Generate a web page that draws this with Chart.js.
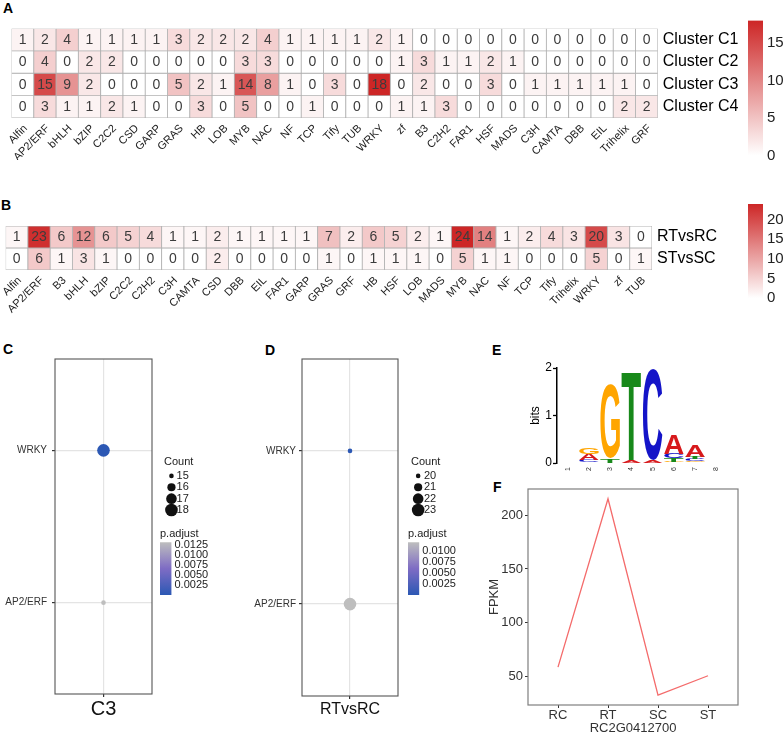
<!DOCTYPE html>
<html>
<head>
<meta charset="utf-8">
<script src="https://cdn.jsdelivr.net/npm/chart.js@4.4.1/dist/chart.umd.min.js"></script>
<style>
  html, body { margin: 0; padding: 0; background: #fff; }
  #fig { position: relative; width: 784px; height: 736px; overflow: hidden; background: #fff; }
  #fig canvas { position: absolute; }
  .tag { position: absolute; font: bold 14px "Liberation Sans", Arial, sans-serif; line-height: 16px; color: #000; }
</style>
</head>
<body>
<div id="fig">
  <div class="tag" style="left:3px;top:0px">A</div>
  <div class="tag" style="left:1px;top:197px">B</div>
  <div class="tag" style="left:3px;top:341px">C</div>
  <div class="tag" style="left:265px;top:342px">D</div>
  <div class="tag" style="left:492px;top:342px">E</div>
  <div class="tag" style="left:493px;top:479px">F</div>
</div>
<script>
// === Data ===

// A: TF families per cluster
const catsA = ['Alfin', 'AP2/ERF', 'bHLH', 'bZIP', 'C2C2', 'CSD', 'GARP', 'GRAS', 'HB', 'LOB', 'MYB', 'NAC', 'NF', 'TCP', 'Tify', 'TUB', 'WRKY', 'zf', 'B3', 'C2H2', 'FAR1', 'HSF', 'MADS', 'C3H', 'CAMTA', 'DBB', 'EIL', 'Trihelix', 'GRF'];
const clustersA = ['Cluster C1', 'Cluster C2', 'Cluster C3', 'Cluster C4'];
const countC1 = [1, 2, 4, 1, 1, 1, 1, 3, 2, 2, 2, 4, 1, 1, 1, 1, 2, 1, 0, 0, 0, 0, 0, 0, 0, 0, 0, 0, 0];
const countC2 = [0, 4, 0, 2, 2, 0, 0, 0, 0, 0, 3, 3, 0, 0, 0, 0, 0, 1, 3, 1, 1, 2, 1, 0, 0, 0, 0, 0, 0];
const countC3 = [0, 15, 9, 2, 0, 0, 0, 5, 2, 1, 14, 8, 1, 0, 3, 0, 18, 0, 2, 0, 0, 3, 0, 1, 1, 1, 1, 1, 0];
const countC4 = [0, 3, 1, 1, 2, 1, 0, 0, 3, 0, 5, 0, 0, 1, 0, 0, 0, 1, 1, 3, 0, 0, 0, 0, 0, 0, 0, 2, 2];
const legendTicksA = [0, 5, 10, 15];

// B: TF families per comparison
const catsB = ['Alfin', 'AP2/ERF', 'B3', 'bHLH', 'bZIP', 'C2C2', 'C2H2', 'C3H', 'CAMTA', 'CSD', 'DBB', 'EIL', 'FAR1', 'GARP', 'GRAS', 'GRF', 'HB', 'HSF', 'LOB', 'MADS', 'MYB', 'NAC', 'NF', 'TCP', 'Tify', 'Trihelix', 'WRKY', 'zf', 'TUB'];
const compsB = ['RTvsRC', 'STvsSC'];
const countRT = [1, 23, 6, 12, 6, 5, 4, 1, 1, 2, 1, 1, 1, 1, 7, 2, 6, 5, 2, 1, 24, 14, 1, 2, 4, 3, 20, 3, 0];
const countST = [0, 6, 1, 3, 1, 0, 0, 0, 0, 2, 0, 0, 0, 0, 1, 0, 1, 1, 1, 0, 5, 1, 1, 0, 0, 0, 5, 0, 1];
const legendTicksB = [0, 5, 10, 15, 20];

// C / D: enrichment dot plots
const terms = ['AP2/ERF', 'WRKY'];
const countCl3 = [15, 18];
const padjCl3 = [0.01325, 0.00002];
const countRTRC = [23, 20];
const padjRTRC = [0.0121, 0.00002];
const breaksCl3 = [15, 16, 17, 18];
const breaksRTRC = [20, 21, 22, 23];
const pTicksCl3 = [0.0025, 0.005, 0.0075, 0.01, 0.0125];
const pTicksRTRC = [0.0025, 0.005, 0.0075, 0.01];

// E: motif logo (bits per letter and position)
const logoPos = ['1', '2', '3', '4', '5', '6', '7', '8'];
const bitsA = [0, 0.13, 0, 0.07, 0.05, 0.40, 0.25, 0];
const bitsC = [0, 0.04, 0, 0, 1.92, 0.10, 0.04, 0];
const bitsG = [0, 0.14, 1.56, 0, 0, 0.03, 0.035, 0];
const bitsT = [0, 0.02, 0.10, 1.85, 0, 0.07, 0.06, 0];

// F: expression
const fpkmSamples = ['RC', 'RT', 'SC', 'ST'];
const fpkmValues = [59, 215, 33, 51];
const fpkmTicks = [50, 100, 150, 200];

// === Helpers ===
const FONT = '"Liberation Sans", Arial, sans-serif';
Chart.defaults.font.family = FONT;
Chart.defaults.color = '#222';
const NOGRID = { display: false, drawTicks: false };

function mk(left, top, w, h) {
  const c = document.createElement('canvas');
  c.width = w; c.height = h;
  c.style.left = left + 'px'; c.style.top = top + 'px';
  c.style.width = w + 'px'; c.style.height = h + 'px';
  document.getElementById('fig').appendChild(c);
  return c;
}
// fix axis box size so the plot area lands where it should
function pin(size) {
  return s => {
    if (s.isHorizontal()) s.height = size; else s.width = size;
    s.paddingLeft = s.paddingRight = s.paddingTop = s.paddingBottom = 0;
  };
}
function tickAt(vals) { return s => { s.ticks = vals.map(v => ({ value: v })); }; }
function opts(extra) {
  return Object.assign({ responsive: false, animation: false, devicePixelRatio: 1 }, extra, {
    plugins: Object.assign({ legend: { display: false }, tooltip: { enabled: false } }, extra.plugins || {})
  });
}
function red(t) {
  const c = [255 - t * 50, 255 - t * 217, 255 - t * 217].map(Math.round);
  return `rgb(${c})`;
}
function blueGrey(t) {
  const stops = [[44, 88, 180], [126, 108, 196], [190, 190, 190]];
  const s = t <= 0.5 ? 0 : 1;
  const u = t <= 0.5 ? t / 0.5 : (t - 0.5) / 0.5;
  const c = stops[s].map((v, k) => Math.round(v + u * (stops[s + 1][k] - v)));
  return `rgb(${c})`;
}
function sizeOf(v, lo, hi) {
  const t = hi > lo ? (v - lo) / (hi - lo) : 1;
  return Math.sqrt(2.3 * 2.3 + t * (6.3 * 6.3 - 2.3 * 2.3));
}
function frame(color, w) {
  return { id: 'frame', afterDraw(chart) {
    const { ctx, chartArea: a } = chart;
    ctx.save(); ctx.strokeStyle = color; ctx.lineWidth = w;
    ctx.strokeRect(a.left, a.top, a.right - a.left, a.bottom - a.top);
    ctx.restore();
  } };
}
const legendTitle = text => ({ display: true, text, align: 'start', color: '#222',
  font: { size: 11, weight: 'normal' }, padding: { top: 0, bottom: 2 } });

// numbers inside heatmap cells
const cellText = { id: 'cellText', afterDatasetsDraw(chart) {
  const ctx = chart.ctx;
  ctx.save();
  ctx.font = '14px ' + FONT; ctx.fillStyle = '#3c3c3c';
  ctx.textAlign = 'center'; ctx.textBaseline = 'middle';
  chart.data.datasets.forEach((ds, i) => {
    chart.getDatasetMeta(i).data.forEach((el, j) => {
      const p = el.getCenterPoint();
      ctx.fillText(ds.counts[j], p.x, p.y + 0.5);
    });
  });
  ctx.restore();
} };

function heatmap(el, cats, rowNames, rows, o) {
  const maxV = Math.max(...rows.flat());
  return new Chart(el, {
    type: 'bar',
    data: { labels: cats, datasets: rows.map((vals, r) => ({
      data: vals.map(() => [r - 0.5, r + 0.5]),
      counts: vals,
      backgroundColor: vals.map(v => red(v / maxV)),
      borderColor: '#B0B0B0', borderWidth: 0.8, borderSkipped: false,
      barPercentage: 1, categoryPercentage: 1, grouped: false
    })) },
    options: opts({
      layout: { padding: o.pad },
      scales: {
        x: { grid: NOGRID, border: { display: false }, afterFit: pin(o.xH),
          ticks: { autoSkip: false, minRotation: 45, maxRotation: 45, font: { size: 11 }, color: '#222', padding: 4, labelOffset: 3 } },
        y: { type: 'linear', position: 'right', reverse: true, min: -0.5, max: rows.length - 0.5,
          grid: NOGRID, border: { display: false }, afterFit: pin(o.yW),
          afterBuildTicks: tickAt(rowNames.map((_, i) => i)),
          ticks: { autoSkip: false, callback: v => rowNames[v], font: { size: 16 }, color: '#000', padding: 5 } }
      }
    }),
    plugins: [cellText]
  });
}

function colorbar(el, lo, hi, ticks, colorAt, o) {
  return new Chart(el, {
    type: 'bar',
    data: { labels: [''], datasets: [{
      data: [[lo, hi]], barPercentage: 1, categoryPercentage: 1,
      backgroundColor: ctx => {
        const a = ctx.chart.chartArea;
        if (!a) return 'rgba(0,0,0,0)';
        const g = ctx.chart.ctx.createLinearGradient(0, a.bottom, 0, a.top);
        for (let i = 0; i <= 10; i++) g.addColorStop(i / 10, colorAt(i / 10));
        return g;
      }
    }] },
    options: opts({
      layout: { padding: o.pad },
      plugins: o.title ? { title: legendTitle(o.title) } : {},
      scales: {
        x: { display: false },
        y: { position: 'right', min: lo, max: hi, grid: NOGRID, border: { display: false },
          afterFit: pin(o.yW), afterBuildTicks: tickAt(ticks),
          ticks: { autoSkip: false, font: { size: o.fs }, color: '#222', padding: o.tp, callback: o.fmt || (v => v) } }
      }
    })
  });
}

function dotPlot(el, counts, padj, sample, o) {
  const cLo = Math.min(...counts), cHi = Math.max(...counts);
  const pLo = Math.min(...padj), pHi = Math.max(...padj);
  return new Chart(el, {
    type: 'scatter',
    data: { datasets: [{
      data: terms.map((t, i) => ({ x: 1, y: i + 1, count: counts[i], p: padj[i] })),
      pointRadius: ctx => ctx.raw ? sizeOf(ctx.raw.count, cLo, cHi) : 3,
      pointBackgroundColor: ctx => ctx.raw ? blueGrey((ctx.raw.p - pLo) / (pHi - pLo)) : '#999',
      pointBorderWidth: 0, clip: false
    }] },
    options: opts({
      layout: { padding: o.pad },
      scales: {
        x: { type: 'linear', min: 0.4, max: 1.6, afterBuildTicks: tickAt([1]), afterFit: pin(o.xH),
          grid: { color: '#E4E4E4', lineWidth: 1.2, tickColor: '#333', tickLength: 3 }, border: { display: false },
          ticks: { callback: () => sample, font: { size: o.xfs }, color: '#111', padding: o.xpad } },
        y: { type: 'linear', min: 0.4, max: terms.length + 0.6, afterBuildTicks: tickAt(terms.map((_, i) => i + 1)),
          afterFit: pin(o.yW),
          grid: { color: '#E4E4E4', lineWidth: 1.2, tickColor: '#333', tickLength: 3 }, border: { display: false },
          ticks: { autoSkip: false, callback: v => terms[v - 1], font: { size: 10 }, color: '#333', padding: o.ypad } }
      }
    }),
    plugins: [frame('#555', 1.1)]
  });
}

function countLegend(el, breaks, o) {
  const lo = Math.min(...breaks), hi = Math.max(...breaks);
  return new Chart(el, {
    type: 'scatter',
    data: { datasets: [{
      data: breaks.map((b, i) => ({ x: 0.5, y: i + 1, count: b })),
      pointRadius: ctx => ctx.raw ? sizeOf(ctx.raw.count, lo, hi) : 3,
      pointBackgroundColor: '#111', pointBorderWidth: 0, clip: false
    }] },
    options: opts({
      layout: { padding: o.pad },
      plugins: { title: legendTitle('Count') },
      scales: {
        x: { display: false, min: 0, max: 1 },
        y: { position: 'right', reverse: true, min: 0.5, max: breaks.length + 0.5,
          afterBuildTicks: tickAt(breaks.map((_, i) => i + 1)), afterFit: pin(o.yW),
          grid: NOGRID, border: { display: false },
          ticks: { autoSkip: false, callback: v => breaks[v - 1], font: { size: 11 }, color: '#222', padding: o.tp } }
      }
    })
  });
}

// === A ===
heatmap(mk(0, 20, 784, 140), catsA, clustersA, [countC1, countC2, countC3, countC4],
  { pad: { left: 11.5, top: 8.5 }, xH: 42, yW: 126.2 });
colorbar(mk(730, 10, 54, 160), 0, Math.max(...countC1, ...countC2, ...countC3, ...countC4), legendTicksA, red,
  { pad: { left: 18, top: 10.5, bottom: 14.5 }, yW: 21, fs: 15, tp: 4 });

// === B ===
heatmap(mk(0, 215, 784, 105), catsB, compsB, [countRT, countST],
  { pad: { left: 5.6, top: 11 }, xH: 50, yW: 132 });
colorbar(mk(730, 195, 54, 115), 0, Math.max(...countRT, ...countST), legendTicksB, red,
  { pad: { left: 18, top: 9, bottom: 12 }, yW: 21, fs: 15, tp: 4 });

// === C ===
dotPlot(mk(0, 350, 160, 375), countCl3, padjCl3, 'C3',
  { pad: { top: 9, right: 8 }, xH: 31, yW: 55, xfs: 20, xpad: 0, ypad: 5 });
countLegend(mk(164, 455, 60, 67), breaksCl3, { pad: { bottom: 6.3 }, yW: 51.4, tp: 4 });
colorbar(mk(160, 527, 60, 75), Math.min(...padjCl3), Math.max(...padjCl3), pTicksCl3, blueGrey,
  { title: 'p.adjust', pad: { bottom: 7 }, yW: 48.5, fs: 11, tp: 3, fmt: v => v.toFixed(4) });

// === D ===
dotPlot(mk(245, 350, 160, 375), countRTRC, padjRTRC, 'RTvsRC',
  { pad: { top: 9, right: 7 }, xH: 29, yW: 57, xfs: 16, xpad: 1, ypad: 3 });
countLegend(mk(411, 455, 60, 67), breaksRTRC, { pad: { bottom: 6.3 }, yW: 52, tp: 5 });
colorbar(mk(408, 527, 60, 75), Math.min(...padjRTRC), Math.max(...padjRTRC), pTicksRTRC, blueGrey,
  { title: 'p.adjust', pad: { bottom: 7 }, yW: 48.7, fs: 11, tp: 3, fmt: v => v.toFixed(4) });

// === E: sequence logo ===
const letterColor = { A: '#D7191C', C: '#1414C8', G: '#FFA500', T: '#18891A' };
const logoBits = { A: bitsA, C: bitsC, G: bitsG, T: bitsT };
const layers = [0, 1, 2, 3].map(() => ({ data: [], letters: [] }));
logoPos.forEach((_, i) => {
  Object.keys(logoBits).map(L => [L, logoBits[L][i]])
    .sort((a, b) => a[1] - b[1])
    .forEach(([L, h], k) => { layers[k].data.push(h); layers[k].letters.push(L); });
});

function drawGlyph(ctx, ch, color, l, t, w, h) {
  ctx.save();
  ctx.font = 'bold 100px ' + FONT;
  ctx.textAlign = 'left'; ctx.textBaseline = 'alphabetic';
  const m = ctx.measureText(ch);
  const gw = m.actualBoundingBoxLeft + m.actualBoundingBoxRight;
  const gh = m.actualBoundingBoxAscent + m.actualBoundingBoxDescent;
  ctx.translate(l, t);
  ctx.scale(w / gw, h / gh);
  ctx.fillStyle = color;
  ctx.fillText(ch, m.actualBoundingBoxLeft, m.actualBoundingBoxAscent);
  ctx.restore();
}
const glyphs = { id: 'glyphs', afterDatasetsDraw(chart) {
  chart.data.datasets.forEach((ds, i) => {
    chart.getDatasetMeta(i).data.forEach((el, j) => {
      const { x, y, base, width } = el.getProps(['x', 'y', 'base', 'width'], true);
      if (base - y < 0.4) return;
      drawGlyph(chart.ctx, ds.letters[j], letterColor[ds.letters[j]], x - width / 2, y, width, base - y);
    });
  });
} };

new Chart(mk(520, 355, 220, 125), {
  type: 'bar',
  data: { labels: logoPos, datasets: layers.map(l => ({
    data: l.data, letters: l.letters, stack: 'logo',
    backgroundColor: 'rgba(0,0,0,0)', borderWidth: 0, barPercentage: 0.92, categoryPercentage: 1
  })) },
  options: opts({
    layout: { padding: { top: 13, right: 13 } },
    scales: {
      x: { stacked: true, grid: NOGRID, border: { display: false }, afterFit: pin(17),
        ticks: { autoSkip: false, minRotation: 90, maxRotation: 90, font: { size: 7 }, color: '#333', padding: 4 } },
      y: { stacked: true, min: 0, max: 2, afterBuildTicks: tickAt([0, 1, 2]), afterFit: pin(37),
        grid: { drawOnChartArea: false, tickLength: 4, tickColor: '#000', tickWidth: 1.3 },
        border: { color: '#000', width: 1.5 },
        title: { display: true, text: 'bits', font: { size: 12 }, color: '#000', padding: { top: 8, bottom: 0 } },
        ticks: { autoSkip: false, font: { size: 12 }, color: '#000', padding: 1 } }
    }
  }),
  plugins: [glyphs]
});

// === F: expression line ===
new Chart(mk(480, 480, 304, 256), {
  type: 'scatter',
  data: { datasets: [{
    data: fpkmValues.map((v, i) => ({ x: i, y: v })),
    showLine: true, borderColor: '#F46B6B', borderWidth: 1.3, pointRadius: 0, tension: 0
  }] },
  options: opts({
    layout: { padding: { top: 9, right: 46 } },
    scales: {
      x: { type: 'linear', min: -0.6, max: 3.6, afterBuildTicks: tickAt([0, 1, 2, 3]), afterFit: pin(31),
        grid: { drawOnChartArea: false, tickLength: 3, tickColor: '#333' }, border: { display: false },
        ticks: { autoSkip: false, callback: v => fpkmSamples[v], font: { size: 13 }, color: '#333', padding: 0 },
        title: { display: true, text: 'RC2G0412700', font: { size: 13 }, color: '#333', padding: 0 } },
      y: { min: 23.9, max: 224.1, afterBuildTicks: tickAt(fpkmTicks), afterFit: pin(48),
        grid: { drawOnChartArea: false, tickLength: 3, tickColor: '#333' }, border: { display: false },
        ticks: { autoSkip: false, font: { size: 13 }, color: '#333', padding: 2 },
        title: { display: true, text: 'FPKM', font: { size: 13 }, color: '#333', padding: { top: 7, bottom: 0 } } }
    }
  }),
  plugins: [frame('#7F7F7F', 1.2)]
});
</script>
</body>
</html>
